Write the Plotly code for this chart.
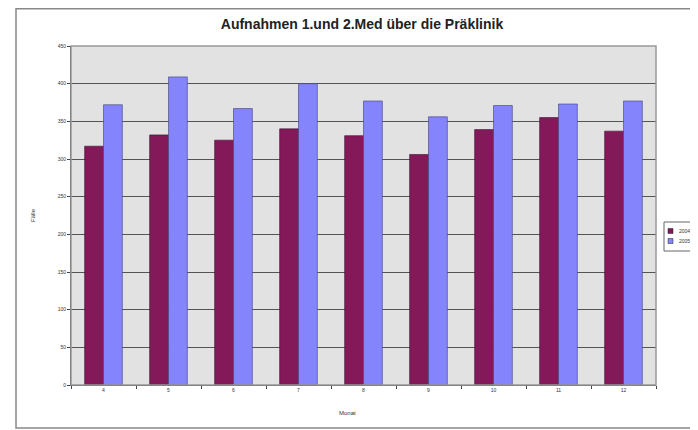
import plotly.graph_objects as go

months = ["4", "5", "6", "7", "8", "9", "10", "11", "12"]
series_2004 = [317, 332, 325, 340, 331, 306, 339, 355, 337]
series_2005 = [372, 409, 367, 400, 377, 356, 371, 373, 377]
y_ticks = [0, 50, 100, 150, 200, 250, 300, 350, 400, 450]
legend_labels = ["2004", "2005"]
colors = ["#84195a", "#8484fc"]

OFF = 8  # page body margin
W, H = 698 - OFF, 430 - OFF
# plot-area edges in window pixels
L, R, T, B = 71, 656, 46, 385
PW, PH = R - L, B - T


def px(x):
    return (x - L) / PW


def py(y):
    return (B - y) / PH


fig = go.Figure()
fig.add_trace(go.Bar(x=months, y=series_2004, name=legend_labels[0], showlegend=False,
                     marker=dict(color=colors[0], line=dict(color="#3a1030", width=0.6))))
fig.add_trace(go.Bar(x=months, y=series_2005, name=legend_labels[1], showlegend=False,
                     marker=dict(color=colors[1], line=dict(color="#40407a", width=0.6))))

shapes = [
    dict(type="rect", xref="paper", yref="paper",
         x0=px(16), x1=px(740), y0=py(428), y1=py(OFF + 0.8),
         line=dict(color="#888", width=1.5), fillcolor="rgba(0,0,0,0)", layer="below"),
    dict(type="rect", xref="paper", yref="paper", x0=0, x1=1, y0=0, y1=1,
         line=dict(color="#999", width=1.5), fillcolor="rgba(0,0,0,0)"),
    # legend box
    dict(type="rect", xref="paper", yref="paper",
         x0=px(664), x1=px(705), y0=py(251), y1=py(222),
         line=dict(color="#666", width=1), fillcolor="white"),
]
annotations = []
for i, (lab, col) in enumerate(zip(legend_labels, colors)):
    yc = 231 + i * 10
    shapes.append(dict(type="rect", xref="paper", yref="paper",
                       x0=px(668), x1=px(673), y0=py(yc + 2.5), y1=py(yc - 2.5),
                       line=dict(color="#222", width=0.5), fillcolor=col))
    annotations.append(dict(text=lab, xref="paper", yref="paper", x=px(677), y=py(yc),
                            xanchor="left", yanchor="middle", showarrow=False,
                            font=dict(size=5, color="#333")))

annotations.append(dict(text="Fälle", xref="paper", yref="paper", x=px(33), y=py(215),
                        xanchor="center", yanchor="middle", textangle=-90, showarrow=False,
                        font=dict(size=6, color="#333")))
annotations.append(dict(text="Monat", xref="paper", yref="paper", x=px(347), y=py(413),
                        xanchor="center", yanchor="middle", showarrow=False,
                        font=dict(size=6, color="#333")))

fig.update_layout(
    width=W, height=H,
    margin=dict(l=L - OFF, r=698 - R, t=T - OFF, b=430 - B, autoexpand=False),
    paper_bgcolor="white",
    plot_bgcolor="#e2e2e2",
    barmode="group",
    bargap=0.42,
    bargroupgap=0,
    showlegend=False,
    font=dict(family="Arial, Liberation Sans, sans-serif", color="#222"),
    title=dict(text="<b>Aufnahmen 1.und 2.Med über die Präklinik</b>",
               x=(362 - OFF) / W, xanchor="center", y=1 - (24 - OFF) / H, yanchor="middle",
               font=dict(size=14, color="#222")),
    xaxis=dict(tickfont=dict(size=5, color="#333"), showgrid=False,
               showline=True, linecolor="#444", linewidth=1,
               ticks="outside", ticklen=3, tickcolor="#444",
               tickson="boundaries"),
    yaxis=dict(range=[0, 450], tickvals=y_ticks, tickfont=dict(size=5, color="#333"),
               showgrid=True, gridcolor="#555", gridwidth=1,
               showline=True, linecolor="#444", linewidth=1,
               ticks="outside", ticklen=3, tickcolor="#444", zeroline=False),
    shapes=shapes,
    annotations=annotations,
)

fig.write_html("out.html")
